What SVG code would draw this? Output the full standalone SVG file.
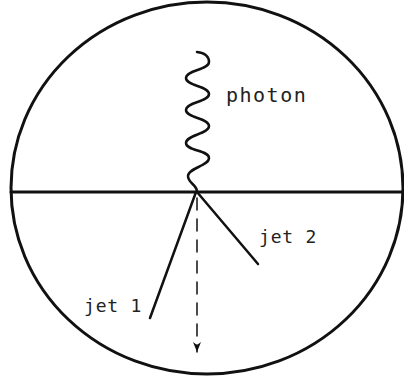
<svg xmlns="http://www.w3.org/2000/svg" width="404" height="379" viewBox="0 0 404 379">
<style>
.lbl{font-family:"DejaVu Sans Mono","Liberation Mono",monospace;fill:#222}
.ln{stroke:#111;fill:none;stroke-linecap:round}
</style>
<defs>
<marker id="ah" markerWidth="11" markerHeight="8" refX="10" refY="4" orient="auto" markerUnits="userSpaceOnUse" viewBox="0 0 11 8">
<path d="M0,0 L10,4 L0,8 L3,4 Z" fill="#111"/>
</marker>
</defs>
<rect width="404" height="379" fill="#fff"/>
<g id="detector">
<ellipse cx="207" cy="188" rx="196" ry="186" class="ln" stroke-width="3"/>
<line x1="11" y1="192" x2="404" y2="192" class="ln" stroke-width="3"/>
</g>
<g id="connectors">
<path id="photon-wave" class="ln" stroke-width="2.5" d="M197,52 C205,53 209,57 209,62 C209,70 186,70 186,78 C186,86 209,86 209,94 C209,102 186,102 186,110 C186,118 209,118 209,126 C209,134 186,135 186,143 C186,151 209,150 209,158 C209,166 188,168 188,176 C188,183 196,184 197,191"/>
<line id="jet1-line" x1="196" y1="192" x2="150" y2="318" class="ln" stroke-width="2.5"/>
<line id="jet2-line" x1="197" y1="192" x2="258" y2="264" class="ln" stroke-width="2.5"/>
<line id="recoil" x1="197" y1="198" x2="197" y2="352" class="ln" stroke-width="1.5" stroke-dasharray="12 9" marker-end="url(#ah)"/>
</g>
<g id="photon"><text class="lbl" x="226" y="102" font-size="20" letter-spacing="1.5">photon</text></g>
<g id="jet2"><text class="lbl" x="259" y="243" font-size="18" letter-spacing="0.8">jet 2</text></g>
<g id="jet1"><text class="lbl" x="84" y="312" font-size="18" letter-spacing="0.8">jet 1</text></g>
</svg>
